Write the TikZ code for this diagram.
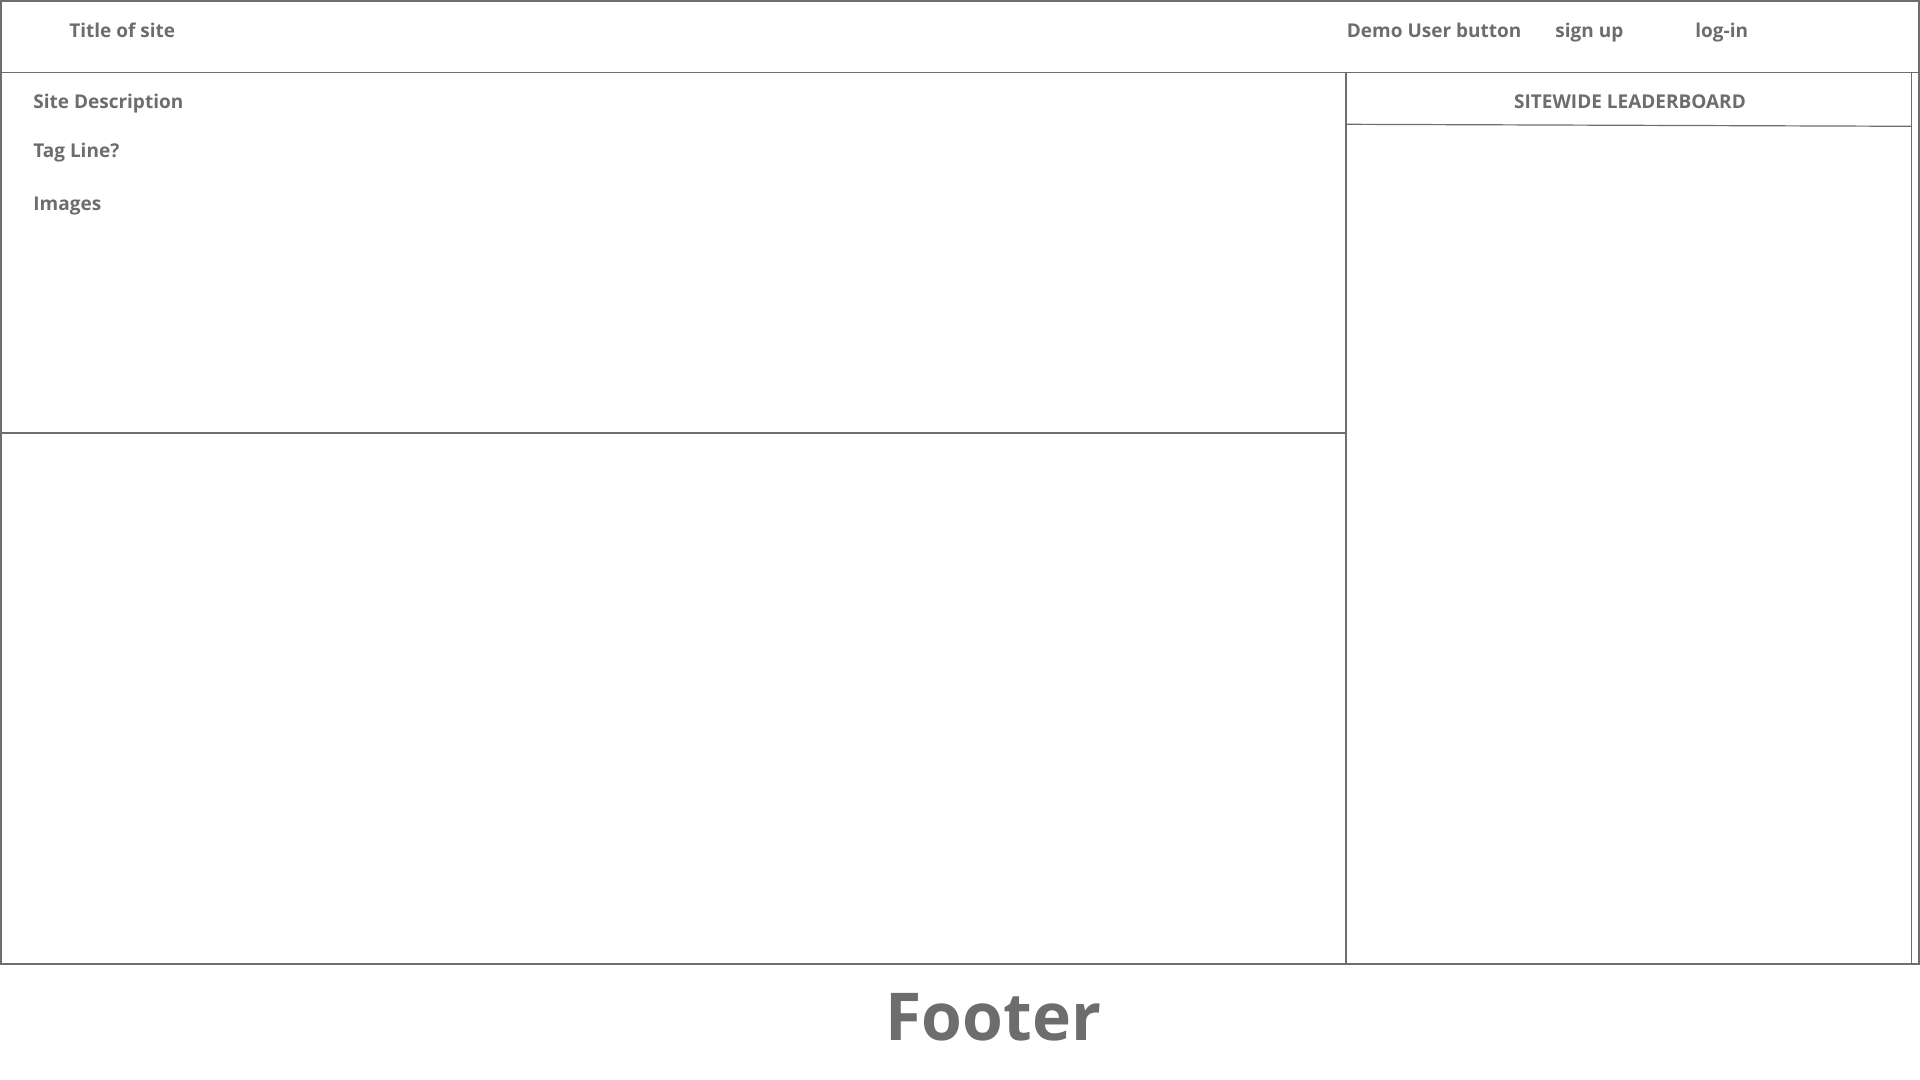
\documentclass[tikz,border=0pt]{standalone}
\usepackage{fontspec}
\setmainfont{Open Sans}
\definecolor{wire}{HTML}{6E6E6E}
\definecolor{txt}{HTML}{6D6D6D}
\tikzset{
  frame/.style={draw=wire, line width=0.9pt},
  thin/.style={draw=wire, line width=0.6pt},
  lbl/.style={inner sep=0pt, text=txt, font=\fontsize{9.5pt}{12pt}\selectfont\bfseries},
  big/.style={inner sep=0pt, text=txt, font=\fontsize{33pt}{40pt}\selectfont\bfseries}
}
\begin{document}
\begin{tikzpicture}[x=0.5pt,y=-0.5pt]
\useasboundingbox (0,0) rectangle (1920,1080);
\fill[white] (0,0) rectangle (1920,1080);
% coordinates
\coordinate (hTL) at (1,1);
\coordinate (hBR) at (1919,72.5);
\coordinate (lTop) at (1,72.5);
\coordinate (lBot) at (1,964);
\coordinate (midL) at (0,433);
\coordinate (midR) at (1346,433);
\coordinate (cTop) at (1346,72.5);
\coordinate (cBot) at (1346,964);
\coordinate (rTop) at (1911.5,72.5);
\coordinate (rBot) at (1911.5,964);
\coordinate (eTop) at (1919,72.5);
\coordinate (eBot) at (1919,964);
\coordinate (bL) at (0,964);
\coordinate (bR) at (1919.5,964);
\coordinate (sL) at (1346,124.3);
\coordinate (sR) at (1911.5,126.3);
% header box
\draw[frame] (hTL) rectangle (hBR);
% body lines
\draw[frame] (lTop) -- (lBot);
\draw[frame] (midL) -- (midR);
\draw[thin] (cTop) -- (cBot);
\draw[thin] (rTop) -- (rBot);
\draw[thin] (eTop) -- (eBot);
\draw[frame] (bL) -- (bR);
\draw[thin] (sL) -- (sR);
% texts
\node[lbl, anchor=base west] (title) at (69,37.5) {Title of site};
\node[lbl, anchor=base west] (demo) at (1346.5,37.5) {Demo User button};
\node[lbl, anchor=base west] (signup) at (1555,37.5) {sign up};
\node[lbl, anchor=base west] (login) at (1695,37.5) {log-in};
\node[lbl, anchor=base west] (desc) at (33,108.5) {Site Description};
\node[lbl, anchor=base west] (tag) at (33,157.5) {Tag Line?};
\node[lbl, anchor=base west] (img) at (33,211) {Images};
\node[lbl, anchor=base] (lead) at (1630,108.5) {SITEWIDE LEADERBOARD};
\node[big, anchor=base] (footer) at (993.5,1040) {Footer};
\end{tikzpicture}
\end{document}
